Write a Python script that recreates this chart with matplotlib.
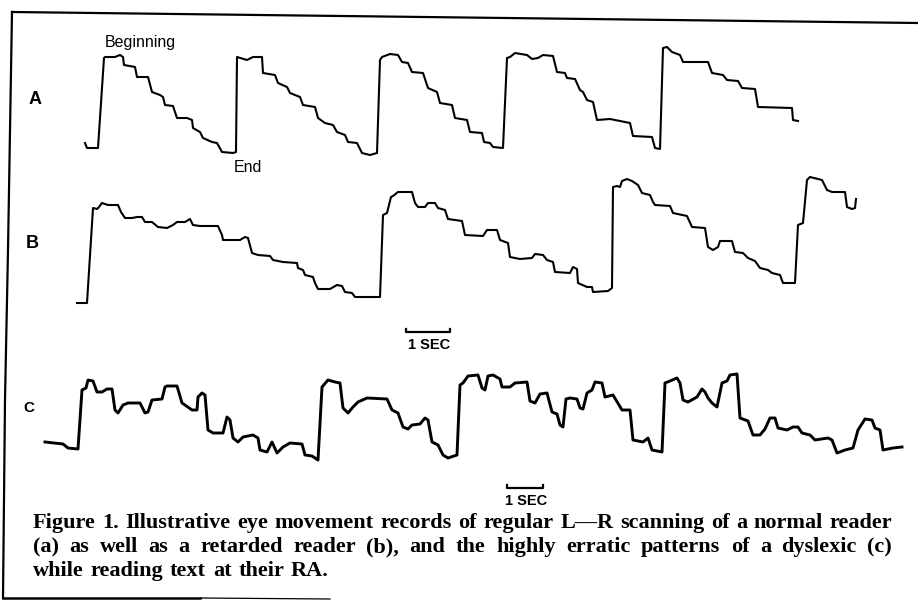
import matplotlib
matplotlib.use("Agg")
import matplotlib.pyplot as plt
import numpy as np

# Eye movement records: (time, position) in image pixels
trace_a = np.array([
    (85,143),(87,148),(98,148),(104,58),(105,57),(115,57),(120,55),(123,57),(124,65),(135,67),
    (137,77),(148,77),(152,92),(160,95),(163,97),(165,105),(173,106),(177,118),(187,118),(192,120),
    (193,128),(200,132),(203,138),(212,142),(217,143),(222,152),(233,153),(236,152),(237,57),(247,60),
    (253,57),(262,57),(263,73),(275,75),(278,83),(287,87),(290,93),(300,97),(303,105),(315,107),
    (318,118),(325,123),(333,125),(337,132),(345,135),(348,142),(357,143),(362,153),(370,155),(377,153),
    (380,60),(382,57),(390,54),(398,55),(402,62),(408,63),(412,72),(423,73),(428,88),(437,92),
    (440,103),(452,105),(455,118),(467,120),(470,132),(482,133),(484,142),(490,143),(493,147),(503,148),
    (507,58),(510,57),(515,53),(527,55),(532,59),(538,58),(543,55),(553,56),(557,72),(565,73),
    (567,78),(575,79),(580,90),(583,92),(587,100),(593,102),(597,120),(610,119),(630,123),(633,136),
    (652,137),(655,148),(660,149),(663,48),(667,47),(672,52),(680,55),(683,62),(708,62),(712,73),
    (723,75),(727,80),(738,81),(742,88),(755,89),(758,107),(792,108),(793,120),(798,121),
])

trace_b = np.array([
    (77,303),(87,303),(93,208),(97,209),(99,207),(102,203),(105,204),(108,205),(118,205),(121,212),
    (125,218),(132,218),(137,217),(142,217),(145,222),(152,222),(158,227),(167,228),(173,225),(177,222),
    (185,222),(190,219),(193,225),(200,226),(218,226),(222,235),(223,240),(240,240),(245,237),(248,238),
    (252,253),(258,255),(270,256),(273,260),(283,262),(297,263),(298,268),(303,270),(305,275),(313,277),
    (315,283),(318,289),(330,289),(337,285),(342,286),(345,292),(352,293),(355,297),(380,297),(383,215),
    (387,213),(391,197),(393,196),(398,192),(412,192),(415,203),(418,207),(425,207),(428,203),(435,203),
    (438,208),(445,210),(448,219),(462,221),(465,235),(483,236),(487,230),(497,230),(500,240),(508,243),
    (510,257),(520,259),(532,258),(535,254),(543,255),(547,260),(553,262),(555,272),(570,273),(573,267),
    (577,269),(578,283),(587,287),(592,287),(593,292),(608,291),(612,288),(613,187),(617,186),(620,187),
    (622,181),(627,179),(632,181),(638,185),(642,193),(650,195),(653,202),(655,205),(670,206),(673,213),
    (687,216),(692,227),(705,228),(708,247),(713,250),(718,247),(720,241),(732,241),(735,252),(743,253),
    (748,258),(755,261),(760,268),(768,270),(772,273),(780,275),(783,283),(795,283),(798,225),(803,223),
    (807,180),(810,177),(818,179),(822,180),(827,190),(832,192),(845,192),(847,207),(852,209),(855,208),
    (856,199),
])

trace_c = np.array([
    (45,442),(63,444),(68,448),(78,449),(82,390),(86,388),(88,380),(93,381),(97,392),(102,392),
    (107,389),(112,389),(115,410),(118,413),(123,405),(128,403),(140,403),(145,413),(148,412),(152,400),
    (162,399),(165,387),(167,386),(177,386),(182,403),(185,405),(192,410),(197,410),(198,397),(202,393),
    (205,395),(208,430),(213,433),(223,433),(227,417),(230,420),(233,438),(238,442),(243,437),(253,435),
    (258,438),(260,450),(267,452),(272,442),(277,453),(283,447),(290,443),(302,444),(305,455),(312,456),
    (318,460),(322,387),(328,380),(335,382),(340,383),(343,408),(348,413),(353,407),(358,402),(367,398),
    (387,399),(392,410),(398,413),(403,427),(408,429),(412,425),(420,424),(425,418),(428,420),(432,442),
    (438,445),(443,455),(448,458),(457,455),(460,385),(463,383),(468,376),(478,375),(482,388),(485,390),
    (488,376),(493,375),(500,379),(502,387),(510,387),(515,383),(527,382),(530,401),(535,403),(540,394),
    (547,393),(552,412),(557,414),(560,425),(563,427),(566,399),(570,398),(577,399),(580,408),(583,409),
    (587,393),(592,390),(595,382),(602,383),(605,397),(613,395),(622,410),(630,410),(633,440),(643,442),
    (648,438),(652,450),(662,452),(665,383),(670,381),(677,378),(680,383),(683,400),(688,402),(697,397),
    (702,389),(705,392),(708,398),(712,403),(717,407),(722,383),(727,381),(730,375),(737,374),(740,418),
    (748,421),(753,435),(760,435),(765,429),(770,418),(775,418),(778,428),(787,430),(793,427),(798,427),
    (802,433),(810,435),(815,440),(828,438),(832,440),(837,453),(845,450),(853,448),(858,430),(865,419),
    (872,420),(875,428),(880,430),(883,450),(893,448),(902,447),
])

row_labels = ['A', 'B', 'C']
caption = [
    "Figure 1. Illustrative eye movement records of regular L\u2014R scanning of a normal reader",
    "(a) as well as a retarded reader (b), and the highly erratic patterns of a dyslexic (c)",
    "while reading text at their RA.",
]

W, H = 918, 607
fig = plt.figure(figsize=(W / 100, H / 100), dpi=100)
ax = fig.add_axes([0, 0, 1, 1])
ax.set_xlim(0, W)
ax.set_ylim(H, 0)
ax.axis('off')

#Frame of the scanned figure (slightly skewed)
ax.plot([12, 918], [12, 23], 'k-', lw=1.6)
ax.plot([12, 8, 5, 3], [12, 250, 400, 598], 'k-', lw=1.6)
ax.plot([3, 200], [598, 598], 'k-', lw=1.8)
ax.plot([200, 330], [598, 599], 'k-', lw=0.9)

#Traces
ax.plot(trace_a[:, 0], trace_a[:, 1], 'k-', lw=1.5, solid_joinstyle='round')
ax.plot(trace_b[:, 0], trace_b[:, 1], 'k-', lw=1.5, solid_joinstyle='round')
ax.plot(trace_c[:, 0], trace_c[:, 1], 'k-', lw=2.1, solid_joinstyle='round')

#Row labels
sans = ['Liberation Sans', 'DejaVu Sans']
ax.text(35, 100, row_labels[0], fontsize=13, fontweight='bold', family=sans, ha='center', va='center')
ax.text(32, 243, row_labels[1], fontsize=13, fontweight='bold', family=sans, ha='center', va='center')
ax.text(29, 408, row_labels[2], fontsize=11, fontweight='bold', family=sans, ha='center', va='center')

ax.text(140, 42, 'Beginning', fontsize=11.5, family=sans, ha='center', va='center')
ax.text(248, 168, 'End', fontsize=11.5, family=sans, ha='center', va='center')

#1 SEC scale bars
for x0, x1, yb in [(406, 450, 332), (507, 543, 488)]:
    ax.plot([x0, x0, x1, x1], [yb - 3, yb, yb, yb - 3], 'k-', lw=1.6)
    ax.text((x0 + x1) / 2 + 1, yb + 13, '1 SEC', fontsize=10.5, fontweight='bold',
            family=sans, ha='center', va='center')

#Caption, justified word by word
serif = ['Liberation Serif', 'DejaVu Serif']
left, right = 33, 892
baselines = [528, 552, 576]
fsize = 16
renderer = fig.canvas.get_renderer()

def word_widths(words, size):
    ws = []
    for w in words:
        t = ax.text(0, 0, w, fontsize=size, fontweight='bold', family=serif)
        ws.append(t.get_window_extent(renderer).width)
        t.remove()
    return ws

sp = ax.text(0, 0, 'a a', fontsize=fsize, fontweight='bold', family=serif)
space_w = sp.get_window_extent(renderer).width
sp.remove()
space_w -= 2 * word_widths(['a'], fsize)[0]

#shrink font if the first line does not fit
words0 = caption[0].split()
natural = sum(word_widths(words0, fsize)) + space_w * (len(words0) - 1)
if natural > right - left:
    fsize *= (right - left) / natural
    space_w *= (right - left) / natural

for i, line in enumerate(caption):
    words = line.split()
    ws = word_widths(words, fsize)
    if i < len(caption) - 1:
        gap = (right - left - sum(ws)) / (len(words) - 1)
    else:
        gap = space_w * 1.2
    x = left
    for w, wd in zip(words, ws):
        ax.text(x, baselines[i], w, fontsize=fsize, fontweight='bold', family=serif,
                ha='left', va='baseline')
        x += wd + gap

fig.savefig('out.png', dpi=100)
plt.close(fig)
